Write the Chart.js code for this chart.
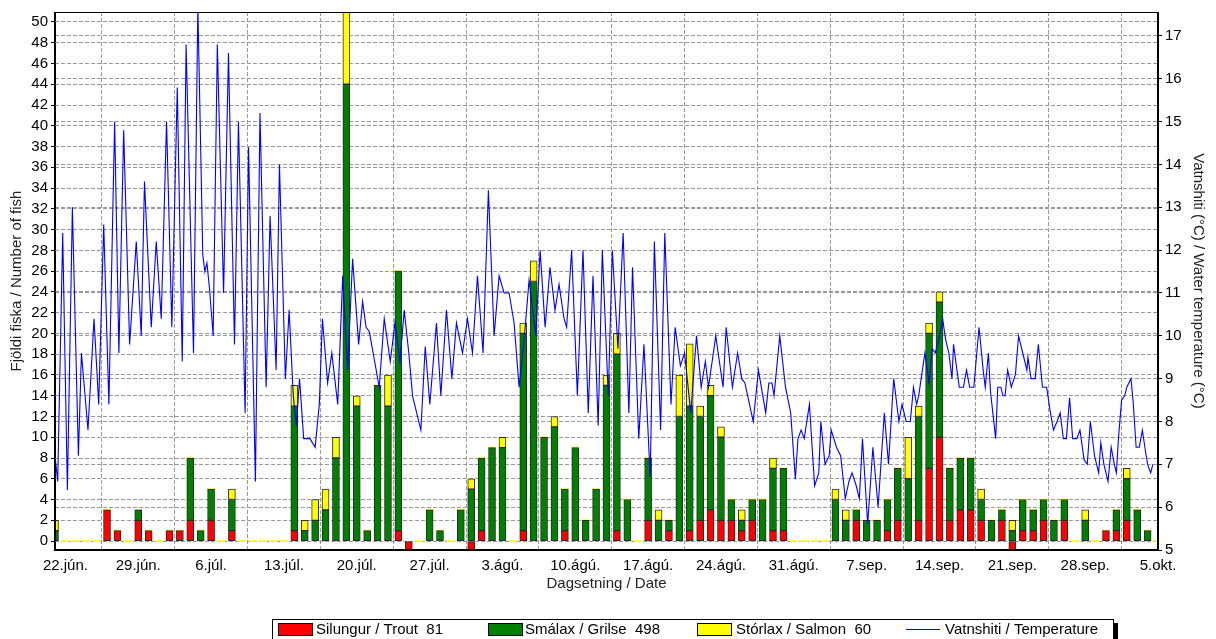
<!DOCTYPE html>
<html>
<head>
<meta charset="utf-8">
<script src="https://cdn.jsdelivr.net/npm/chart.js@4/dist/chart.umd.min.js"></script>
<style>
html,body{margin:0;padding:0;background:#fff;}
#wrap{width:1216px;height:639px;position:relative;}
</style>
</head>
<body>
<div id="wrap"><canvas id="c" width="1216" height="639"></canvas></div>
<script>
// ---- data (day index: 0 = 22. jún; first bar is 21. jún) ----
const firstDay = -1;
const xTickLabels = ['22.jún.','29.jún.','6.júl.','13.júl.','20.júl.','27.júl.','3.ágú.','10.ágú.',
  '17.ágú.','24.ágú.','31.ágú.','7.sep.','14.sep.','21.sep.','28.sep.','5.okt.'];
const countTicks = [0,2,4,6,8,10,12,14,16,18,20,22,24,26,28,30,32,34,36,38,40,42,44,46,48,50];
const tempTicks = [5,6,7,8,9,10,11,12,13,14,15,16,17];

const seriesLabels = ['Silungur / Trout  81','Smálax / Grilse  498','Stórlax / Salmon  60','Vatnshiti / Temperature'];
const yLeftTitle = 'Fjöldi fiska / Number of fish';
const yRightTitle = 'Vatnshiti (°C) / Water temperature (°C)';
const xTitle = 'Dagsetning / Date';

const trout = [0,
  0,0,0,0,3,1,0,   2,1,0,1,1,2,0,   2,0,1,0,0,0,0,   0,1,0,0,0,0,0,
  0,0,0,0,1,-1,0,  0,0,0,0,-1,1,0,  0,0,1,0,0,0,1,   0,0,0,0,1,0,0,
  2,0,1,0,1,2,3,   2,2,1,2,0,1,1,   0,0,0,0,0,0,2,   0,0,1,2,0,2,7,
  10,2,3,3,2,0,2,  -1,1,1,2,0,2,0,  0,0,1,1,2,0,0,   0];
const grilse = [1,
  0,0,0,0,0,0,0,   1,0,0,0,0,6,1,   3,0,3,0,0,0,0,   0,12,1,2,3,8,44,
  13,1,15,13,25,0,0, 3,1,0,3,5,7,9, 9,0,19,25,10,11,4, 9,2,5,15,17,4,0,
  6,2,1,12,12,10,11, 8,2,1,2,4,6,6, 0,0,0,0,4,2,1,   2,2,3,5,6,10,13,
  13,5,5,5,2,2,1,  1,3,2,2,2,2,0,   2,0,0,2,4,3,1,   0];
const salmon = [1,
  0,0,0,0,0,0,0,   0,0,0,0,0,0,0,   0,0,1,0,0,0,0,   0,2,1,2,2,2,7,
  1,0,0,3,0,0,0,   0,0,0,0,1,0,0,   1,0,1,2,0,1,0,   0,0,0,1,2,0,0,
  0,1,0,4,6,1,1,   1,0,1,0,0,1,0,   0,0,0,0,1,1,0,   0,0,0,0,4,1,1,
  1,0,0,0,1,0,0,   1,0,0,0,0,0,0,   1,0,0,0,1,0,0,   0];

const tempDay = [-1.0,-0.74,-0.26,0.19,0.67,1.25,1.54,2.17,2.75,3.2,3.68,4.18,4.73,5.14,5.6,6.17,6.81,7.29,7.6,8.25,
  8.73,9.21,9.72,10.23,10.75,11.23,11.6,12.31,12.73,13.2,13.4,13.6,13.85,14.2,14.6,15.2,15.67,16.25,16.63,17.27,
  17.6,18.26,18.7,19.29,19.67,20.25,20.57,21.14,21.5,21.9,22.2,22.5,22.9,23.5,24.0,24.4,24.7,25.2,25.6,26.17,
  26.65,27.12,27.6,28.18,28.56,28.9,29.2,29.5,30.16,30.64,31.22,31.67,32.15,32.56,33.0,33.36,34.16,34.58,35.02,35.66,
  36.08,36.62,37.14,37.58,38.16,38.64,39.12,39.6,40.14,40.65,41.2,41.68,42.16,42.64,43.12,43.6,44.08,44.56,44.82,45.2,
  45.62,46.1,46.57,47.05,47.44,47.92,48.17,48.65,49.2,49.74,50.25,50.7,51.2,51.6,52.17,52.56,53.1,53.6,54.15,54.5,
  55.1,55.6,56.2,56.6,57.2,57.6,58.2,58.6,59.1,59.5,60.1,60.65,61.1,61.5,61.8,62.5,63.2,63.5,64.1,64.6,
  65.0,65.3,66.1,66.6,67.3,67.6,67.9,68.1,68.65,69.2,69.7,70.15,70.4,70.7,71.0,71.5,72.0,72.4,72.6,73.0,
  73.4,73.6,74.1,74.5,74.95,75.3,75.6,76.0,76.3,76.6,77.1,77.6,78.1,78.7,79.1,79.6,80.1,80.4,80.8,81.2,
  81.5,81.8,82.0,82.3,82.6,83.0,83.3,83.6,84.0,84.3,84.6,84.9,85.2,85.35,85.9,86.3,86.6,86.9,87.3,87.8,
  88.2,88.4,88.7,88.9,89.4,89.6,89.9,90.1,90.3,90.55,90.9,91.3,91.6,92.1,92.4,92.5,92.8,93.2,93.5,93.9,
  94.3,94.6,94.95,95.3,95.6,95.9,96.2,96.5,96.8,97.2,97.5,97.9,98.2,98.5,98.9,99.3,99.5,99.8,100.2,100.5,
  100.8,101.0,101.2,101.5,101.8,102.0,102.4,102.6,102.9,103.2,103.5,103.8,104.0,104.3,104.5];
const tempC = [7.2,6.6,12.4,6.4,13.0,7.2,9.6,7.8,10.4,8.4,12.6,8.4,15.0,9.6,14.8,9.8,12.2,10.0,13.6,10.2,
  12.2,10.4,15.0,10.2,15.8,9.4,16.8,9.6,17.7,11.9,11.5,11.7,11.1,10.0,16.8,11.0,16.6,9.8,15.0,8.2,
  14.4,6.6,15.2,8.8,12.8,9.2,14.0,9.0,10.6,8.6,7.9,9.0,7.6,7.6,7.4,8.4,10.4,8.9,9.6,8.4,
  11.4,9.2,11.8,9.8,10.8,10.2,10.1,9.7,8.8,10.4,9.4,10.3,9.4,10.6,9.6,8.6,7.8,9.75,8.4,10.3,
  8.6,10.6,9.0,10.3,9.6,10.4,9.6,11.4,9.6,13.4,10.0,11.4,11.0,11.0,10.3,8.8,9.9,11.3,10.8,10.0,
  12.0,10.2,11.6,10.6,11.2,10.4,10.2,12.0,8.6,12.0,8.2,11.4,7.9,12.0,8.6,12.0,9.7,12.4,8.2,11.6,
  7.6,9.8,6.7,12.2,7.8,12.4,8.4,10.2,9.3,9.6,8.2,10.0,8.8,9.4,8.8,10.0,8.8,10.2,8.8,9.6,
  9.0,8.9,8.0,9.2,8.2,8.9,8.9,8.6,10.0,8.8,8.2,6.65,7.6,7.8,7.6,8.4,6.5,6.8,8.0,7.0,
  7.2,7.8,7.4,7.2,6.2,6.6,6.8,6.5,6.2,7.6,5.6,7.4,6.0,8.2,7.0,9.0,8.0,8.4,8.0,8.0,
  8.8,8.4,8.6,9.1,9.6,8.9,9.7,9.6,10.0,10.4,9.9,9.6,9.0,9.8,8.8,8.8,9.2,8.8,8.8,10.2,
  9.2,8.8,9.6,8.7,7.6,8.8,8.8,8.6,8.6,9.2,8.8,9.1,10.0,9.5,9.2,9.5,9.0,9.0,9.8,8.8,
  8.8,8.3,7.8,8.0,8.2,7.6,7.6,8.55,7.6,7.6,7.8,7.1,7.0,8.0,7.2,6.8,7.5,7.0,6.6,7.4,
  7.0,6.8,7.6,8.5,8.6,8.8,9.0,8.5,7.4,7.4,7.8,7.3,7.0,6.8,7.0];

// ---- build chart ----
const FONT = '"Liberation Sans", Arial, sans-serif';
Chart.defaults.font.family = FONT;
Chart.defaults.font.size = 15;
Chart.defaults.color = '#000';

const dayOf = i => firstDay + i;
const toXY = arr => arr.map((v, i) => ({x: dayOf(i), y: v}));
const GRID = '#9a9a9a';
const DASH = [4, 2];

const barCommon = {type:'bar', xAxisID:'x', yAxisID:'y', stack:'fish', barThickness:7,
  borderWidth:1, borderColor:'#2a2a2a', borderSkipped:false, order:2};

const framePlugin = {
  id:'frame',
  afterDatasetsDraw(chart){
    const {ctx, chartArea:a} = chart;
    ctx.save();
    ctx.strokeStyle = '#000';
    ctx.lineWidth = 1;
    ctx.beginPath(); ctx.moveTo(a.left, a.top + 0.5); ctx.lineTo(a.right, a.top + 0.5); ctx.stroke();
    ctx.lineWidth = 2;
    ctx.beginPath();
    ctx.moveTo(a.left, a.top); ctx.lineTo(a.left, a.bottom);
    ctx.lineTo(a.right, a.bottom); ctx.lineTo(a.right, a.top);
    ctx.stroke();
    ctx.restore();
  }
};

const legendPlugin = {
  id:'boxLegend',
  afterDraw(chart){
    const ctx = chart.ctx;
    const ds = chart.data.datasets;
    ctx.save();
    ctx.fillStyle = '#000';
    ctx.fillRect(276, 623, 842, 30);
    ctx.fillStyle = '#fff';
    ctx.fillRect(272, 619, 842, 30);
    ctx.strokeStyle = '#000';
    ctx.lineWidth = 1;
    ctx.strokeRect(272.5, 619.5, 841, 30);
    const swX = [278, 488, 697];
    const txX = [316, 525, 736, 945];
    ctx.font = '15px ' + FONT;
    ctx.textBaseline = 'middle';
    ctx.textAlign = 'left';
    for (let i = 0; i < 3; i++) {
      ctx.fillStyle = ds[i].backgroundColor;
      ctx.fillRect(swX[i], 623, 35, 13);
      ctx.strokeStyle = '#000';
      ctx.strokeRect(swX[i] + 0.5, 623.5, 34, 12);
      ctx.fillStyle = '#000';
      ctx.fillText(ds[i].label, txX[i], 630);
    }
    ctx.strokeStyle = ds[3].borderColor;
    ctx.lineWidth = 1;
    ctx.beginPath(); ctx.moveTo(906, 629.5); ctx.lineTo(940, 629.5); ctx.stroke();
    ctx.fillStyle = '#000';
    ctx.fillText(ds[3].label, txX[3], 630);
    ctx.restore();
  }
};

new Chart(document.getElementById('c'), {
  data: {
    datasets: [
      {...barCommon, label: seriesLabels[0], data: toXY(trout), backgroundColor:'#ff0000'},
      {...barCommon, label: seriesLabels[1], data: toXY(grilse), backgroundColor:'#008000'},
      {...barCommon, label: seriesLabels[2], data: toXY(salmon), backgroundColor:'#ffff00',
        minBarLength:1,
        borderWidth: c => (c.raw && c.raw.y === 0) ? 0 : 1},
      {type:'line', label: seriesLabels[3], xAxisID:'x', yAxisID:'y2',
        data: tempDay.map((d, i) => ({x: d, y: tempC[i]})),
        borderColor:'#0000ff', borderWidth:1.1, pointRadius:0, tension:0, fill:false, order:0}
    ]
  },
  options: {
    responsive:false, maintainAspectRatio:false, animation:false, devicePixelRatio:1,
    layout:{padding:{top:10, left:0, right:0, bottom:0}},
    plugins:{legend:{display:false}, tooltip:{enabled:false}},
    events:[],
    scales:{
      x:{type:'linear', position:'bottom', min:-1, max:105, stacked:true, offset:false,
        afterBuildTicks: s => { s.ticks = xTickLabels.map((_, i) => ({value: i * 7})); },
        afterFit: s => { s.height = 89; },
        ticks:{autoSkip:false, maxRotation:0, minRotation:0, padding:7, color:'#000',
          callback:(v, i) => xTickLabels[i]},
        grid:{color:GRID, lineWidth:1, drawTicks:false},
        border:{display:false, dash:DASH},
        title:{display:true, text:xTitle, color:'#222', padding:{top:0, bottom:46}}
      },
      y:{type:'linear', position:'left', min:-0.86, max:50.96, stacked:true,
        afterBuildTicks: s => { s.ticks = countTicks.map(v => ({value: v})); },
        afterFit: s => { s.width = 55; },
        ticks:{autoSkip:false, padding:3, color:'#000'},
        grid:{color:GRID, lineWidth:1, drawTicks:true, tickLength:4, tickColor:'#000'},
        border:{display:false, dash:DASH},
        title:{display:true, text:yLeftTitle, color:'#222', padding:{top:8, bottom:0}}
      },
      y2:{type:'linear', position:'right', min:5, max:17.56,
        afterBuildTicks: s => { s.ticks = tempTicks.map(v => ({value: v})); },
        afterFit: s => { s.width = 58; },
        ticks:{autoSkip:false, padding:3, color:'#000'},
        grid:{color:GRID, lineWidth:1, drawTicks:true, tickLength:4, tickColor:'#000'},
        border:{display:false, dash:DASH},
        title:{display:true, text:yRightTitle, color:'#222', padding:{top:9, bottom:0}}
      }
    }
  },
  plugins:[framePlugin, legendPlugin]
});
</script>
</body>
</html>
